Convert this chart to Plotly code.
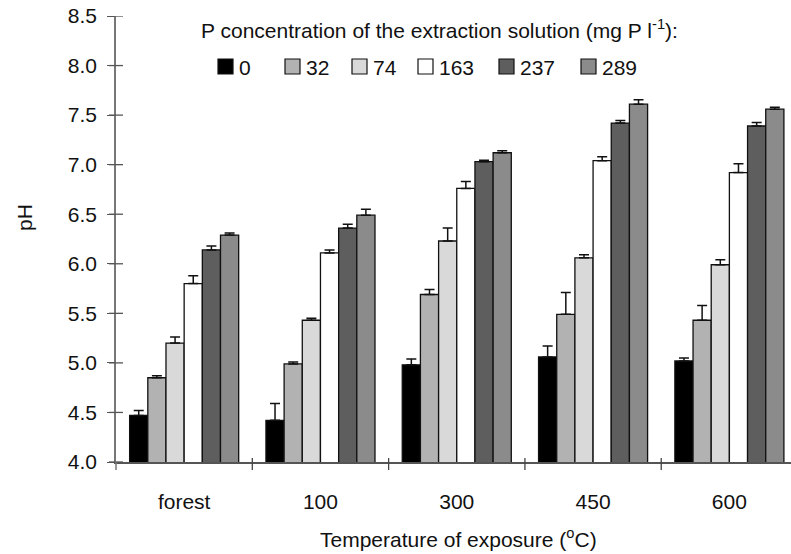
import plotly.graph_objects as go

categories = ["forest", "100", "300", "450", "600"]
series_names = ["0", "32", "74", "163", "237", "289"]
series_colors = ["#000000", "#b2b2b2", "#d9d9d9", "#ffffff", "#5e5e5e", "#8b8b8b"]

ph_0 = [4.47, 4.42, 4.98, 5.06, 5.02]
ph_32 = [4.85, 4.99, 5.69, 5.49, 5.43]
ph_74 = [5.20, 5.43, 6.23, 6.06, 5.99]
ph_163 = [5.80, 6.11, 6.76, 7.04, 6.92]
ph_237 = [6.14, 6.36, 7.03, 7.42, 7.39]
ph_289 = [6.29, 6.49, 7.12, 7.61, 7.56]

err_0 = [0.05, 0.17, 0.06, 0.11, 0.03]
err_32 = [0.02, 0.02, 0.05, 0.22, 0.15]
err_74 = [0.06, 0.02, 0.13, 0.03, 0.05]
err_163 = [0.08, 0.03, 0.07, 0.04, 0.09]
err_237 = [0.04, 0.04, 0.015, 0.025, 0.035]
err_289 = [0.02, 0.06, 0.02, 0.045, 0.02]

y_ticks = [4.0, 4.5, 5.0, 5.5, 6.0, 6.5, 7.0, 7.5, 8.0, 8.5]

values = [ph_0, ph_32, ph_74, ph_163, ph_237, ph_289]
errors = [err_0, err_32, err_74, err_163, err_237, err_289]

FONT = "Liberation Sans, Arial, sans-serif"
FS = 21
W, H = 791, 554
ML, MR, MT, MB = 116, 0, 16, 92
PW = W - ML - MR
PH = H - MT - MB


def px(x):
    return (x - ML) / PW


def py(y):
    return (H - MB - y) / PH


fig = go.Figure()
for name, col, v, e in zip(series_names, series_colors, values, errors):
    fig.add_trace(go.Bar(
        x=categories, y=v, name=name,
        marker=dict(color=col, line=dict(color="#111111", width=1.3)),
        error_y=dict(type="data", symmetric=False, array=e,
                     arrayminus=[0] * len(e), color="#111111",
                     thickness=1.5, width=5),
        showlegend=False,
    ))

shapes = []
# y-axis ticks crossing the axis (inner part)
for t in y_ticks:
    shapes.append(dict(type="line", xref="paper", yref="y",
                       x0=px(ML - 7), x1=px(ML + 7), y0=t, y1=t,
                       line=dict(color="#555555", width=1.3)))
# y-axis extension below baseline
shapes.append(dict(type="line", xref="paper", yref="paper",
                   x0=0, x1=0, y0=py(H - MB + 8), y1=0,
                   line=dict(color="#777777", width=1.5)))
# category separator ticks on x-axis
for i in range(len(categories)):
    shapes.append(dict(type="line", xref="x", yref="paper",
                       x0=i + 0.5, x1=i + 0.5,
                       y0=py(H - MB + 8), y1=py(H - MB - 4),
                       line=dict(color="#444444", width=1.3)))

annotations = []
# legend title
annotations.append(dict(
    text="P concentration of the extraction solution (mg P l<sup>-1</sup>):",
    xref="paper", yref="paper", x=px(439), y=py(29),
    xanchor="center", yanchor="middle", showarrow=False,
    font=dict(family=FONT, size=FS, color="#111111")))
# manual legend
legend_x = [218, 285, 352, 418, 499, 581]
for lx, name, col in zip(legend_x, series_names, series_colors):
    shapes.append(dict(type="rect", xref="paper", yref="paper",
                       x0=px(lx), x1=px(lx + 15), y0=py(74), y1=py(59),
                       fillcolor=col, line=dict(color="#111111", width=1.2)))
    annotations.append(dict(
        text=name, xref="paper", yref="paper", x=px(lx + 19), y=py(67),
        xanchor="left", yanchor="middle", showarrow=False,
        font=dict(family=FONT, size=FS, color="#111111")))
# axis titles
annotations.append(dict(
    text="pH", xref="paper", yref="paper", x=px(24), y=py(218),
    xanchor="center", yanchor="middle", textangle=-90, showarrow=False,
    font=dict(family=FONT, size=FS, color="#111111")))
annotations.append(dict(
    text="Temperature of exposure (<sup>o</sup>C)", xref="paper", yref="paper",
    x=px(458), y=py(538), xanchor="center", yanchor="middle", showarrow=False,
    font=dict(family=FONT, size=FS, color="#111111")))

fig.update_layout(
    width=W, height=H, autosize=False,
    margin=dict(l=ML, r=MR, t=MT, b=MB, pad=0),
    paper_bgcolor="white", plot_bgcolor="white",
    barmode="group", bargap=0.2, bargroupgap=0,
    font=dict(family=FONT, size=FS, color="#111111"),
    shapes=shapes, annotations=annotations,
    xaxis=dict(type="category", range=[-0.5, 4.452], showline=True,
               linecolor="#555555", linewidth=1.5, ticks="",
               showgrid=False, zeroline=False, ticklabelstandoff=20,
               tickfont=dict(family=FONT, size=FS, color="#111111")),
    yaxis=dict(range=[4, 8.5], tickvals=y_ticks,
               ticktext=[f"{t:.1f}" for t in y_ticks],
               showline=True, linecolor="#777777", linewidth=1.5,
               ticks="outside", ticklen=7, tickwidth=1.3, tickcolor="#555555",
               showgrid=False, zeroline=False, ticklabelstandoff=6,
               tickfont=dict(family=FONT, size=FS, color="#111111")),
)

fig.write_html("out.html")
